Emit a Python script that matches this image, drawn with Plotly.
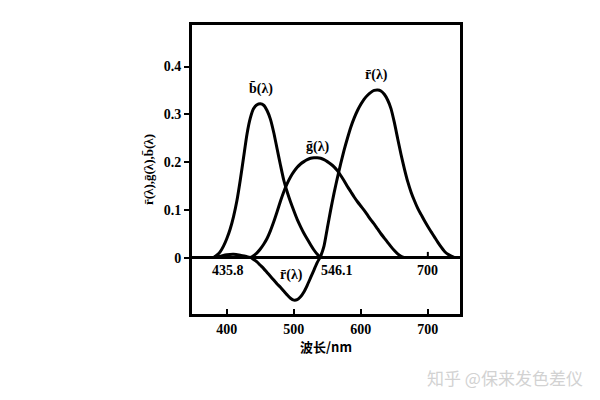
import plotly.graph_objects as go

# Data (wavelength in nm)
b_wl = [380, 385, 390, 395, 400, 405, 410, 415, 420, 425, 430, 435, 440, 445, 450, 455, 460, 465,
        470, 475, 480, 485, 490, 495, 500, 505, 510, 515, 520, 525, 530, 535, 540]
b_val = [0.0, 0.005, 0.012, 0.024, 0.040, 0.060, 0.086, 0.119, 0.162, 0.210, 0.258, 0.292, 0.312,
         0.320, 0.322, 0.319, 0.308, 0.290, 0.262, 0.228, 0.194, 0.162, 0.138, 0.117, 0.098, 0.080,
         0.065, 0.051, 0.039, 0.027, 0.016, 0.007, 0.0]

g_wl = [435, 440, 445, 450, 455, 460, 465, 470, 475, 480, 485, 490, 495, 500, 505, 510, 515, 520,
        525, 530, 535, 540, 545, 550, 555, 560, 565, 570, 575, 580, 585, 590, 595, 600, 605, 610,
        615, 620, 625, 630, 635, 640, 645, 650, 655, 660, 665]
g_val = [0.0, 0.004, 0.010, 0.018, 0.028, 0.040, 0.056, 0.075, 0.096, 0.118, 0.138, 0.155, 0.169,
         0.180, 0.189, 0.196, 0.201, 0.205, 0.208, 0.209, 0.209, 0.208, 0.205, 0.201, 0.196, 0.190,
         0.182, 0.172, 0.161, 0.149, 0.138, 0.127, 0.117, 0.108, 0.099, 0.089, 0.079, 0.070, 0.060,
         0.050, 0.041, 0.032, 0.023, 0.015, 0.008, 0.003, 0.0]

r_wl = [380, 390, 400, 410, 420, 430, 436, 440, 445, 450, 455, 460, 465, 470, 475, 480, 485, 490,
        495, 500, 505, 510, 515, 520, 525, 530, 535, 540, 545, 550, 555, 560, 565, 570, 575, 580,
        585, 590, 595, 600, 605, 610, 615, 620, 625, 630, 635, 640, 645, 650, 655, 660, 665, 670,
        675, 680, 685, 690, 695, 700, 705, 710, 715, 720, 725, 730, 735, 740]
r_val = [0.0, 0.003, 0.006, 0.007, 0.005, 0.002, 0.0, -0.004, -0.009, -0.016, -0.023, -0.031,
         -0.039, -0.047, -0.055, -0.062, -0.070, -0.078, -0.085, -0.089, -0.088, -0.082, -0.072,
         -0.058, -0.042, -0.026, -0.010, 0.003, 0.024, 0.062, 0.100, 0.135, 0.167, 0.197, 0.225,
         0.250, 0.273, 0.292, 0.308, 0.321, 0.332, 0.340, 0.346, 0.350, 0.351, 0.349, 0.342, 0.330,
         0.312, 0.283, 0.249, 0.216, 0.186, 0.159, 0.137, 0.119, 0.103, 0.090, 0.077, 0.065, 0.054,
         0.043, 0.032, 0.022, 0.013, 0.007, 0.003, 0.0]

x_ticks = [400, 500, 600, 700]
y_ticks = [0, 0.1, 0.2, 0.3, 0.4]
y_tick_text = ["0", "0.1", "0.2", "0.3", "0.4"]

labels = ["b̄(λ)", "ḡ(λ)", "r̄(λ)", "r̄(λ)", "435.8", "546.1", "700"]
label_x = [451, 536, 624, 497, 402, 564, 700]
label_y = [0.352, 0.232, 0.382, -0.037, -0.026, -0.026, -0.026]

FONT = "Liberation Serif"

fig = go.Figure()
for wl, val in [(b_wl, b_val), (g_wl, g_val), (r_wl, r_val)]:
    fig.add_trace(go.Scatter(x=wl, y=val, mode="lines",
                             line=dict(color="black", width=3, shape="spline", smoothing=0.6),
                             showlegend=False, hoverinfo="skip"))

for t, x, y in zip(labels, label_x, label_y):
    fig.add_annotation(x=x, y=y, text="<b>" + t + "</b>", showarrow=False,
                       font=dict(family=FONT, size=14, color="black"))

# small tick mark at 700 on the zero line
fig.add_shape(type="line", x0=700, x1=700, y0=0, y1=0.012, line=dict(color="black", width=2))

# page body has an 8px default margin, so the plot area is placed 8px up/left to compensate
fig.add_annotation(x=(505 - 192) / 268, y=-(377 - 314) / 289, xref="paper", yref="paper",
                   xanchor="center", yanchor="middle",
                   text="知乎 @保来发色差仪", showarrow=False,
                   font=dict(family="Noto Sans CJK SC", size=17, color="#d2d2d2"))

fig.update_layout(
    template="none",
    width=600, height=400,
    margin=dict(l=184, r=148, t=17, b=94, pad=0),
    paper_bgcolor="white", plot_bgcolor="white",
    font=dict(family=FONT, color="black"),
    xaxis=dict(range=[348, 748], tickvals=x_ticks, ticktext=["<b>%d</b>" % v for v in x_ticks],
               ticks="inside", ticklen=5, tickwidth=2, tickcolor="black",
               showline=True, linecolor="black", linewidth=3, mirror=True,
               showgrid=False, zeroline=False, automargin=False,
               tickfont=dict(family=FONT, size=14, color="black"),
               title=dict(text="<b>波长/nm</b>", font=dict(family="Noto Sans CJK SC", size=13, color="black"),
                          standoff=8)),
    yaxis=dict(range=[-0.118, 0.487], tickvals=y_ticks, ticktext=["<b>%s</b>" % s for s in y_tick_text],
               ticks="outside", ticklen=5, tickwidth=2, tickcolor="black",
               showline=True, linecolor="black", linewidth=3, mirror=True,
               showgrid=False, zeroline=True, zerolinecolor="black", zerolinewidth=3, automargin=False,
               tickfont=dict(family=FONT, size=14, color="black"),
               title=dict(text="<b>r̄(λ),ḡ(λ),b̄(λ)</b>", font=dict(family=FONT, size=13, color="black"),
                          standoff=8)),
)

fig.write_html("out.html")
